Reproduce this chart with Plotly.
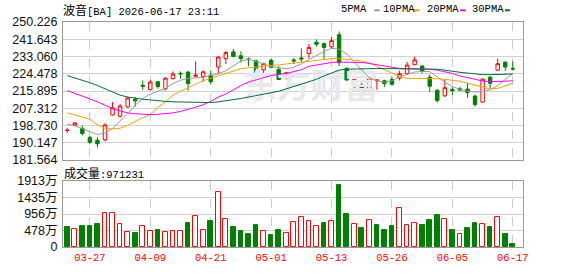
import plotly.graph_objects as go

# ---------------- data ----------------
dates = ["03-24", "03-25", "03-26", "03-27", "03-30", "03-31", "04-01", "04-02", "04-06", "04-07",
         "04-08", "04-09", "04-10", "04-13", "04-14", "04-15", "04-16", "04-17", "04-20", "04-21",
         "04-22", "04-23", "04-24", "04-27", "04-28", "04-29", "04-30", "05-01", "05-04", "05-05",
         "05-06", "05-07", "05-08", "05-11", "05-12", "05-13", "05-14", "05-15", "05-18", "05-19",
         "05-20", "05-21", "05-22", "05-26", "05-27", "05-28", "05-29", "06-01", "06-02", "06-03",
         "06-04", "06-05", "06-08", "06-09", "06-10", "06-11", "06-12", "06-15", "06-16", "06-17"]

open_ = [196.25, 198.93, 197.31, 192.87, 191.44, 191.58, 203.99, 203.37, 208.00, 211.82,
         218.78, 216.58, 220.55, 217.06, 222.12, 224.70, 225.32, 223.27, 223.08, 223.75,
         227.85, 232.00, 235.34, 233.43, 231.85, 230.90, 226.42, 231.19, 226.60, 223.75,
         231.38, 232.33, 234.53, 240.11, 239.49, 237.87, 243.93, 227.23, 221.02, 218.97,
         217.20, 221.02, 221.02, 221.64, 222.31, 224.51, 229.00, 228.33, 222.79, 216.25,
         213.53, 216.73, 217.06, 216.87, 213.39, 210.38, 222.79, 226.27, 230.23, 227.23]
high = [197.65, 200.50, 198.60, 193.49, 192.87, 199.89, 210.38, 209.43, 213.06, 212.91,
        221.17, 221.50, 220.88, 222.79, 225.65, 225.65, 225.94, 230.71, 226.13, 226.13,
        233.29, 235.82, 236.77, 235.67, 232.62, 231.52, 229.95, 232.00, 228.33, 225.10,
        232.33, 237.10, 239.30, 241.54, 239.97, 242.83, 245.50, 227.56, 221.50, 220.21,
        223.08, 221.50, 221.50, 222.79, 225.94, 230.42, 232.95, 228.80, 224.03, 216.87,
        221.50, 217.83, 218.02, 219.93, 214.20, 222.12, 223.41, 232.00, 230.71, 230.71]
low = [195.10, 198.80, 193.80, 189.39, 187.77, 190.96, 203.70, 202.75, 207.66, 208.14,
       216.40, 216.25, 217.06, 216.11, 221.50, 221.98, 216.11, 223.08, 220.55, 219.26,
       224.36, 229.28, 232.62, 230.09, 228.18, 224.03, 224.70, 227.23, 221.50, 221.64,
       229.28, 230.23, 232.14, 238.06, 231.85, 237.10, 228.33, 221.17, 217.20, 214.49,
       216.87, 216.58, 218.02, 218.49, 221.17, 224.03, 228.66, 224.84, 215.44, 210.19,
       212.91, 213.87, 215.78, 212.58, 208.14, 210.05, 217.20, 225.94, 225.94, 225.94]
close = [196.45, 200.03, 194.78, 190.48, 189.67, 199.07, 207.52, 208.48, 212.44, 211.00,
         218.30, 220.40, 218.16, 222.31, 224.36, 224.45, 219.59, 223.75, 225.46, 220.55,
         232.81, 235.00, 233.09, 232.00, 231.52, 224.70, 229.47, 227.71, 221.64, 224.98,
         230.90, 231.85, 237.58, 239.16, 237.58, 240.92, 230.00, 221.36, 221.45, 215.44,
         222.45, 221.36, 219.59, 219.26, 224.51, 228.80, 231.38, 225.65, 218.30, 211.15,
         217.54, 216.11, 216.40, 215.15, 209.24, 221.83, 219.74, 229.47, 227.85, 226.89]
prev_close = 197.20  # close of the session before the first one shown

ma5 = [199.41, 198.60, 197.17, 195.74, 194.31, 195.02, 197.17, 200.99, 204.56, 208.86,
       212.20, 214.35, 215.78, 217.21, 219.60, 221.27, 222.22, 222.46, 222.70, 223.65,
       224.37, 226.04, 228.42, 230.81, 231.76, 230.57, 229.38, 228.18, 227.47, 226.99,
       227.71, 229.38, 231.52, 233.67, 235.58, 237.11, 236.77, 234.39, 230.57, 226.28,
       222.46, 221.03, 220.31, 221.03, 222.94, 224.13, 225.32, 225.65, 225.56, 222.94,
       220.31, 218.16, 216.73, 215.78, 215.44, 215.54, 216.49, 218.64, 221.50, 224.61]
ma10 = [205.04, 204.09, 203.13, 201.94, 199.08, 197.31, 197.03, 197.41, 198.84, 200.75,
        202.66, 204.09, 207.67, 210.53, 213.87, 215.78, 217.45, 219.36, 221.03, 222.22,
        223.41, 224.84, 226.04, 226.99, 227.47, 227.95, 228.42, 228.66, 228.90, 229.38,
        229.85, 230.33, 230.81, 231.29, 231.76, 232.00, 232.00, 231.76, 231.29, 230.81,
        229.85, 228.18, 226.51, 224.61, 223.17, 222.22, 222.22, 222.22, 222.31, 221.98,
        221.74, 221.27, 220.79, 219.83, 218.88, 217.69, 216.97, 217.21, 218.50, 219.83]
ma20 = [216.11, 214.82, 213.39, 211.96, 210.53, 208.86, 207.19, 206.00, 205.04, 204.56,
        204.33, 204.18, 204.33, 204.56, 205.04, 205.76, 206.71, 207.90, 209.10, 210.77,
        212.91, 214.35, 216.49, 218.64, 220.31, 221.50, 222.70, 223.65, 224.13, 224.61,
        225.56, 226.51, 228.18, 228.90, 229.62, 230.09, 230.33, 230.33, 230.33, 230.09,
        229.62, 228.90, 228.18, 227.47, 227.09, 226.99, 226.99, 226.99, 226.75, 226.28,
        225.56, 224.61, 223.41, 222.46, 221.50, 220.88, 220.55, 220.55, 220.79, 221.03]
ma30 = [223.56, 222.46, 221.27, 220.07, 218.64, 216.97, 215.30, 213.87, 212.91, 212.29,
        211.82, 211.48, 211.01, 210.77, 210.53, 210.39, 210.29, 210.15, 210.05, 210.15,
        210.53, 211.01, 211.48, 212.20, 212.91, 213.53, 214.35, 215.06, 215.78, 216.97,
        218.16, 219.36, 220.55, 221.74, 223.41, 224.84, 226.28, 226.75, 226.90, 226.99,
        227.09, 227.09, 227.09, 227.09, 227.09, 227.09, 227.09, 227.09, 227.09, 226.75,
        226.28, 225.65, 225.23, 224.84, 224.37, 224.03, 224.03, 224.03, 224.13, 224.37]

# volume in units of 10,000 shares (万)
volume_wan = [566, 510, 594, 594, 678, 985, 985, 678, 427, 399,
              614, 474, 482, 427, 474, 455, 706, 892, 502, 761,
              1590, 809, 566, 455, 371, 650, 474, 343, 482, 399,
              734, 865, 753, 614, 706, 753, 1793, 957, 669, 538,
              781, 650, 482, 594, 1116, 641, 706, 650, 789, 929,
              809, 482, 363, 538, 706, 678, 566, 865, 371, 97.1231]

label_dates = ["03-27", "04-09", "04-21", "05-01", "05-13", "05-26", "06-05", "06-17"]
price_ticks = [181.564, 190.147, 198.730, 207.312, 215.895, 224.478, 233.060, 241.643, 250.226]
price_tick_labels = ["181.564", "190.147", "198.730", "207.312", "215.895",
                     "224.478", "233.060", "241.643", "250.226"]
vol_ticks = [0, 478.25, 956.5, 1434.75, 1913]
vol_tick_labels = ["0", "478万", "956万", "1435万", "1913万"]

ma_names = ["5PMA", "10PMA", "20PMA", "30PMA"]
ma_colors = ["#9a9a9a", "#f2a10a", "#ff00ff", "#006f3a"]

title_name = "波音"
title_rest = "[BA] 2026-06-17 23:11"
vol_caption = "成交量"

# ---------------- styling ----------------
RED = "#ff0000"
GREEN = "#008000"
MONO = "Liberation Mono, Noto Sans CJK SC, monospace"
SANS = "Liberation Sans, Arial, Noto Sans CJK SC, sans-serif"


def cjk(s):
    return '<span style="font-size:12px;font-family:Noto Sans CJK SC">' + s + '</span>'


x = list(range(len(dates)))
tickpos = [dates.index(d) for d in label_dates]

fig = go.Figure()

# watermark (under everything)
fig.add_trace(go.Scatter(
    x=[32.2], y=[216.7], mode="text", text=["东方财富"],
    textfont=dict(family="Noto Sans CJK SC", size=34, color="#e8e8ee", weight="bold"),
    xaxis="x", yaxis="y", hoverinfo="skip", cliponaxis=True))

# moving averages
for name, vals, col in zip(ma_names, [ma5, ma10, ma20, ma30], ma_colors):
    fig.add_trace(go.Scatter(x=x, y=vals, mode="lines", name=name,
                             line=dict(color=col, width=1), xaxis="x", yaxis="y",
                             hoverinfo="skip"))

# candles
fig.add_trace(go.Candlestick(
    x=x, open=open_, high=high, low=low, close=close,
    increasing=dict(line=dict(color=RED, width=1), fillcolor="white"),
    decreasing=dict(line=dict(color=GREEN, width=1), fillcolor=GREEN),
    whiskerwidth=0, xaxis="x", yaxis="y", hoverinfo="skip"))

# volume colours: up vs previous close
prevs = [prev_close] + close[:-1]
up = [c >= p for c, p in zip(close, prevs)]
fig.add_trace(go.Bar(
    x=x, y=volume_wan, width=0.62,
    marker=dict(color=["white" if u else GREEN for u in up],
                line=dict(color=[RED if u else GREEN for u in up], width=1)),
    xaxis="x2", yaxis="y2", hoverinfo="skip"))

axis_common = dict(showline=True, mirror=True, linecolor="#999999", linewidth=1,
                   zeroline=False, fixedrange=True)
xr = [-0.56, 60.35]

fig.update_layout(
    width=578, height=276,
    margin=dict(l=56, r=55, t=22, b=21),
    paper_bgcolor="white", plot_bgcolor="white",
    showlegend=False, boxgap=0.35, bargap=0,
    xaxis=dict(domain=[0, 1], anchor="y", range=xr, tickmode="array",
               tickvals=tickpos, ticktext=label_dates, showticklabels=False,
               showgrid=True, gridcolor="#cccccc", griddash="dash", gridwidth=1,
               ticks="", rangeslider=dict(visible=False), **axis_common),
    yaxis=dict(domain=[0.3863, 1], anchor="x", range=[price_ticks[0], price_ticks[-1]],
               tickmode="array", tickvals=price_ticks, ticktext=price_tick_labels,
               showgrid=True, gridcolor="#d2d2d2", gridwidth=1, ticks="",
               tickfont=dict(family=SANS, size=12.5, color="#111111"),
               ticklabelstandoff=2, **axis_common),
    xaxis2=dict(domain=[0, 1], anchor="y2", range=xr, tickmode="array",
                tickvals=tickpos, ticktext=label_dates, showticklabels=True,
                showgrid=True, gridcolor="#cccccc", griddash="dash", gridwidth=1,
                ticks="", tickfont=dict(family=MONO, size=10.5, color=RED),
                **axis_common),
    yaxis2=dict(domain=[0, 0.2931], anchor="x2", range=[0, vol_ticks[-1]],
                tickmode="array", tickvals=vol_ticks, ticktext=vol_tick_labels,
                showgrid=True, gridcolor="#d2d2d2", gridwidth=1, ticks="",
                tickfont=dict(family=SANS, size=12.5, color="#111111"),
                ticklabelstandoff=2, **axis_common),
)

# title and volume caption
fig.add_annotation(text=cjk(title_name) + title_rest, xref="paper", yref="paper",
                   x=0, y=1.056, xanchor="left", yanchor="middle", showarrow=False,
                   font=dict(family=MONO, size=10.5, color="#000000"), xshift=-2)
vol_label = cjk(vol_caption) + ":" + str(int(round(volume_wan[-1] * 10000)))
fig.add_annotation(text=vol_label, xref="paper", yref="paper", x=0, y=0.332,
                   xanchor="left", yanchor="middle", showarrow=False,
                   font=dict(family=MONO, size=10.5, color="#000000"), xshift=-1)

# MA legend: name followed by a short coloured dash
legend_x = [0.6054, 0.6953, 0.7908, 0.8901]
dash_x = [(0.6769, 0.6885), (0.7626, 0.7748), (0.8636, 0.8752), (0.9608, 0.9715)]
for name, col, lx, (d0, d1) in zip(ma_names, ma_colors, legend_x, dash_x):
    fig.add_annotation(text=name, xref="paper", yref="paper", x=lx, y=1.056,
                       xanchor="left", yanchor="middle", showarrow=False,
                       font=dict(family=MONO, size=10.5, color="#000000"), xshift=-2)
    fig.add_shape(type="line", xref="paper", yref="paper", x0=d0, x1=d1,
                  y0=1.052, y1=1.052, line=dict(color=col, width=2))

fig.write_html("out.html")
